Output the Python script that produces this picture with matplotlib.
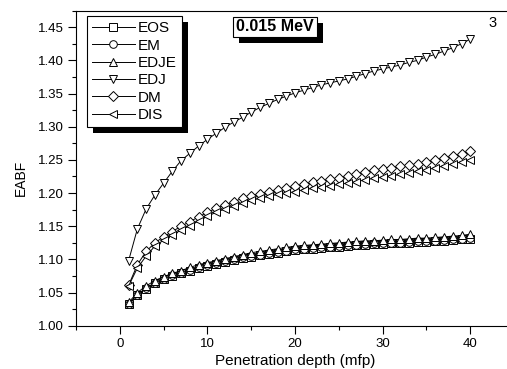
import numpy as np
import matplotlib
matplotlib.use('Agg')
import matplotlib.pyplot as plt
from matplotlib.patches import Rectangle
from matplotlib.ticker import MultipleLocator

plt.rcParams['font.family'] = ['Liberation Sans', 'DejaVu Sans']

# penetration depth (mfp)
depth = list(range(1, 41))

# EABF values
eos = [1.032, 1.046, 1.056, 1.064, 1.070, 1.075, 1.079, 1.083, 1.087, 1.090,
       1.093, 1.096, 1.099, 1.102, 1.104, 1.106, 1.108, 1.110, 1.112, 1.114,
       1.115, 1.116, 1.117, 1.118, 1.119, 1.120, 1.121, 1.122, 1.123, 1.123,
       1.124, 1.124, 1.125, 1.126, 1.126, 1.127, 1.128, 1.129, 1.130, 1.131]
em = [1.033, 1.047, 1.057, 1.065, 1.071, 1.076, 1.080, 1.084, 1.088, 1.091,
      1.094, 1.097, 1.100, 1.103, 1.105, 1.107, 1.109, 1.111, 1.113, 1.115,
      1.116, 1.117, 1.118, 1.119, 1.120, 1.121, 1.122, 1.123, 1.124, 1.124,
      1.125, 1.125, 1.126, 1.127, 1.127, 1.128, 1.129, 1.130, 1.131, 1.132]
edje = [1.035, 1.050, 1.060, 1.068, 1.074, 1.079, 1.083, 1.088, 1.092, 1.095,
        1.098, 1.101, 1.104, 1.107, 1.110, 1.112, 1.114, 1.116, 1.118, 1.120,
        1.121, 1.122, 1.123, 1.124, 1.125, 1.126, 1.127, 1.128, 1.128, 1.129,
        1.130, 1.130, 1.131, 1.132, 1.132, 1.133, 1.134, 1.135, 1.136, 1.138]
edj = [1.098, 1.146, 1.176, 1.197, 1.215, 1.233, 1.249, 1.260, 1.271, 1.281,
       1.290, 1.299, 1.307, 1.314, 1.322, 1.329, 1.335, 1.341, 1.346, 1.351,
       1.355, 1.359, 1.363, 1.366, 1.369, 1.372, 1.376, 1.380, 1.384, 1.387,
       1.390, 1.393, 1.397, 1.400, 1.405, 1.409, 1.414, 1.419, 1.425, 1.432]
dm = [1.061, 1.092, 1.112, 1.125, 1.134, 1.142, 1.150, 1.157, 1.164, 1.171,
      1.177, 1.182, 1.187, 1.192, 1.196, 1.199, 1.202, 1.205, 1.208, 1.210,
      1.213, 1.216, 1.218, 1.221, 1.223, 1.226, 1.229, 1.232, 1.234, 1.236,
      1.238, 1.240, 1.242, 1.244, 1.247, 1.250, 1.253, 1.256, 1.259, 1.263]
dis = [1.060, 1.087, 1.105, 1.120, 1.129, 1.137, 1.144, 1.151, 1.158, 1.165,
       1.171, 1.176, 1.180, 1.185, 1.189, 1.192, 1.195, 1.198, 1.200, 1.202,
       1.205, 1.207, 1.209, 1.211, 1.213, 1.215, 1.217, 1.220, 1.222, 1.224,
       1.226, 1.228, 1.230, 1.233, 1.235, 1.238, 1.241, 1.244, 1.247, 1.250]

series = [('EOS', eos, 's'), ('EM', em, 'o'), ('EDJE', edje, '^'),
          ('EDJ', edj, 'v'), ('DM', dm, 'D'), ('DIS', dis, '<')]

fig = plt.figure(figsize=(5.07, 3.69), dpi=100)
ax = fig.add_axes([0.150, 0.1173, 0.864, 0.854])

for name, vals, mk in series:
    ms = 5.5 if mk != 'D' else 4.6
    ax.plot(depth, vals, color='black', lw=0.7, marker=mk, ms=ms,
            mfc='white', mec='black', mew=0.7, label=name)

ax.set_xlim(-5, 45)
ax.set_ylim(1.0, 1.475)
ax.xaxis.set_major_locator(MultipleLocator(10))
ax.xaxis.set_minor_locator(MultipleLocator(5))
ax.yaxis.set_major_locator(MultipleLocator(0.05))
ax.yaxis.set_minor_locator(MultipleLocator(0.025))
ax.yaxis.set_major_formatter(matplotlib.ticker.FormatStrFormatter('%.2f'))
ax.tick_params(which='both', direction='out', top=False, right=False,
               labelsize=9.5, width=0.8)
ax.tick_params(which='major', length=5.5)
ax.tick_params(which='minor', length=3)
for sp in ax.spines.values():
    sp.set_linewidth(0.8)
ax.spines['right'].set_visible(False)

ax.set_xlabel('Penetration depth (mfp)', fontsize=11, labelpad=3)
ax.set_ylabel('EABF', fontsize=10)
ax.yaxis.set_label_coords(-0.109, 0.47)

leg = ax.legend(loc='upper left', bbox_to_anchor=(0.024, 0.983), fontsize=11,
                handlelength=2.8, handletextpad=0.2, labelspacing=0.22,
                borderpad=0.35, borderaxespad=0, fancybox=False, framealpha=1,
                edgecolor='black')
leg.get_frame().set_linewidth(0.8)
leg.set_zorder(5)

# energy label box
ax.text(0.454, 0.948, '0.015 MeV', transform=ax.transAxes, fontsize=11.5,
        fontweight='bold', ha='center', va='center', zorder=6,
        bbox=dict(boxstyle='square,pad=0.18', fc='white', ec='black', lw=0.8))
ax.text(0.951, 0.96, '3', transform=ax.transAxes, fontsize=10.5,
        ha='center', va='center')

# black drop shadows behind the boxes
fig.canvas.draw()
inv = ax.transAxes.inverted()
boxes = [leg.get_window_extent()]
for t in ax.texts:
    if t.get_text() == '0.015 MeV':
        boxes.append(t.get_bbox_patch().get_window_extent())
for bb in boxes:
    (x0, y0), (x1, y1) = inv.transform([[bb.x0 + 6, bb.y0 - 6], [bb.x1 + 6, bb.y1 - 6]])
    ax.add_patch(Rectangle((x0, y0), x1 - x0, y1 - y0, transform=ax.transAxes,
                           fc='black', ec='none', zorder=4, clip_on=False))

fig.savefig('out.png', dpi=100)
